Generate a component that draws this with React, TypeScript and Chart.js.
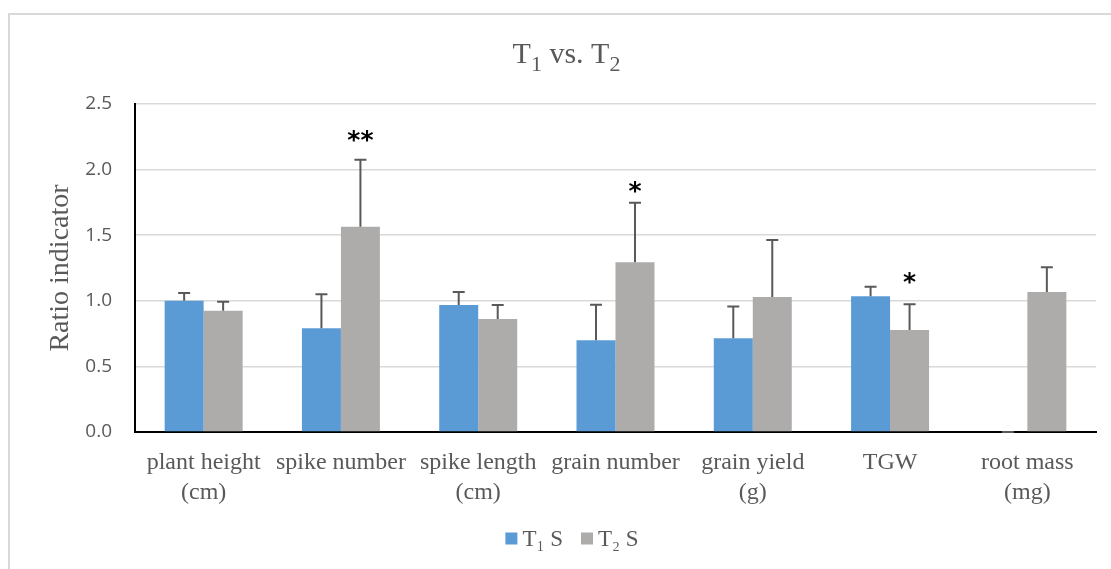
import { useEffect, useRef } from "react";
import { Chart, registerables } from "chart.js";

Chart.register(...registerables);

const categories: (string | string[])[] = [
  ["plant height", "(cm)"],
  "spike number",
  ["spike length", "(cm)"],
  "grain number",
  ["grain yield", "(g)"],
  "TGW",
  ["root mass", "(mg)"],
];

const seriesNames = ["T\u2081 S", "T\u2082 S"];
const t1Values = [1.0, 0.79, 0.968, 0.7, 0.714, 1.034, 0];
const t1Errors = [0.06, 0.26, 0.1, 0.27, 0.242, 0.074, 0];
const t2Values = [0.925, 1.565, 0.861, 1.293, 1.029, 0.777, 1.067];
const t2Errors = [0.068, 0.51, 0.107, 0.455, 0.434, 0.196, 0.188];

// significance marks (T2 series) and the value at which each mark is centred
const sigMarks = ["", "**", "", "*", "", "*", ""];
const sigValues = [0, 2.256, 0, 1.871, 0, 1.17, 0];

const yTicks = [0, 0.5, 1.0, 1.5, 2.0, 2.5];

const COLORS = ["#5B9BD5", "#AEABAB"];
const TEXT = "#595959";
const SERIF = "'Liberation Serif', 'Times New Roman', serif";

const errorBarPlugin = {
  id: "errorBars",
  afterDatasetsDraw(chart: any) {
    const ctx = chart.ctx;
    const y = chart.scales.y;
    const errs = [t1Errors, t2Errors];
    ctx.save();
    ctx.strokeStyle = "#595959";
    ctx.lineWidth = 2;
    chart.data.datasets.forEach((ds: any, di: number) => {
      const meta = chart.getDatasetMeta(di);
      meta.data.forEach((bar: any, j: number) => {
        const v = ds.data[j];
        const top = y.getPixelForValue(v + errs[di][j]);
        const base = y.getPixelForValue(v);
        ctx.beginPath();
        ctx.moveTo(bar.x, base);
        ctx.lineTo(bar.x, top);
        ctx.moveTo(bar.x - 6, top);
        ctx.lineTo(bar.x + 6, top);
        ctx.stroke();
      });
    });
    const meta2 = chart.getDatasetMeta(1);
    ctx.fillStyle = "#000000";
    ctx.font = "bold 25px 'DejaVu Sans', sans-serif";
    ctx.textAlign = "center";
    ctx.textBaseline = "alphabetic";
    sigMarks.forEach((m, j) => {
      if (!m) return;
      const bar = meta2.data[j];
      const yc = y.getPixelForValue(sigValues[j]);
      const mt = ctx.measureText(m);
      const base = yc + (mt.actualBoundingBoxAscent - mt.actualBoundingBoxDescent) / 2;
      ctx.fillText(m, bar.x, base);
    });
    ctx.restore();
  },
};

const titlePlugin = {
  id: "subTitle",
  afterDraw(chart: any) {
    const ctx = chart.ctx;
    const parts: [string, boolean][] = [
      ["T", false],
      ["1", true],
      [" vs. T", false],
      ["2", true],
    ];
    const main = `30px ${SERIF}`;
    const sub = `22px ${SERIF}`;
    ctx.save();
    let total = 0;
    parts.forEach(([t, s]) => {
      ctx.font = s ? sub : main;
      total += ctx.measureText(t).width;
    });
    let x = chart.width / 2 - total / 2;
    const baseline = 48;
    ctx.fillStyle = TEXT;
    ctx.textAlign = "left";
    ctx.textBaseline = "alphabetic";
    parts.forEach(([t, s]) => {
      ctx.font = s ? sub : main;
      ctx.fillText(t, x, s ? baseline + 8 : baseline);
      x += ctx.measureText(t).width;
    });

    // legend
    ctx.font = `23px ${SERIF}`;
    ctx.textBaseline = "middle";
    const box = 12;
    const gap = 5;
    const spacing = 18;
    const widths = seriesNames.map((n) => box + gap + ctx.measureText(n).width);
    const totalW = widths.reduce((a, b) => a + b, 0) + spacing * (widths.length - 1);
    let lx = 562 - totalW / 2;
    const cy = 523.5;
    seriesNames.forEach((n, i) => {
      ctx.fillStyle = COLORS[i];
      ctx.fillRect(lx, cy - box / 2, box, box);
      ctx.fillStyle = TEXT;
      ctx.fillText(n, lx + box + gap, cy + 1);
      lx += widths[i] + spacing;
    });
    ctx.restore();
  },
};

export default function App() {
  const ref = useRef<HTMLCanvasElement | null>(null);

  useEffect(() => {
    if (!ref.current) return;
    const chart = new Chart(ref.current, {
      type: "bar",
      data: {
        labels: categories,
        datasets: [
          {
            label: seriesNames[0],
            data: t1Values,
            backgroundColor: COLORS[0],
            categoryPercentage: 0.568,
            barPercentage: 1,
          },
          {
            label: seriesNames[1],
            data: t2Values,
            backgroundColor: COLORS[1],
            categoryPercentage: 0.568,
            barPercentage: 1,
          },
        ],
      },
      options: {
        responsive: false,
        animation: false,
        devicePixelRatio: 1,
        layout: { padding: { top: 89, left: 0, right: 27, bottom: 50 } },
        plugins: {
          title: { display: false },
          tooltip: { enabled: false },
          legend: { display: false },
        },
        scales: {
          x: {
            grid: { display: false },
            border: { display: true, color: "#000000", width: 2 },
            ticks: {
              color: TEXT,
              padding: 8,
              maxRotation: 0,
              autoSkip: false,
              font: { family: SERIF, size: 24, lineHeight: 1.25 },
            },
            afterFit(scale: any) {
              scale.height = 87;
            },
          },
          y: {
            min: 0,
            max: 2.5,
            afterBuildTicks(scale: any) {
              scale.ticks = yTicks.map((v) => ({ value: v }));
            },
            grid: { color: "#D9D9D9", lineWidth: 1.5, drawTicks: false },
            border: { display: true, color: "#000000", width: 2 },
            ticks: {
              color: TEXT,
              padding: 23,
              font: { family: "'Open Sans', sans-serif", size: 19 },
              callback: (v: any) => Number(v).toFixed(1),
            },
            title: {
              display: true,
              text: "Ratio indicator",
              color: TEXT,
              font: { family: SERIF, size: 28 },
              padding: { top: 34, bottom: 4 },
            },
            afterFit(scale: any) {
              scale.width = 125;
            },
          },
        },
      },
      plugins: [errorBarPlugin, titlePlugin],
    });
    return () => chart.destroy();
  }, []);

  return (
    <div
      style={{
        position: "fixed",
        left: 0,
        top: 0,
        width: 1111,
        height: 569,
        overflow: "hidden",
        background: "#ffffff",
      }}
    >
      <div
        style={{
          position: "absolute",
          left: 8,
          top: 13,
          width: 1130,
          height: 600,
          border: "2px solid #D9D9D9",
          boxSizing: "border-box",
        }}
      />
      <canvas
        ref={ref}
        width={1113}
        height={554}
        style={{ position: "absolute", left: 10, top: 15, display: "block" }}
      />
    </div>
  );
}
